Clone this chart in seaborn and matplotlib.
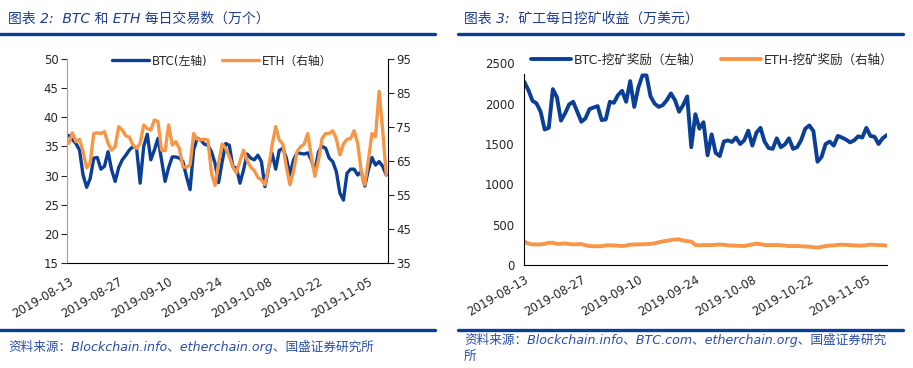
import pandas as pd
import matplotlib
matplotlib.use("Agg")
import matplotlib.pyplot as plt
import matplotlib.dates as mdates
from matplotlib.lines import Line2D
import seaborn as sns

sns.set_style("white")
plt.rcParams['font.family'] = ['DejaVu Sans', 'Noto Sans CJK SC']
plt.rcParams['axes.unicode_minus'] = False

BLUE = "#0b3f96"
ORANGE = "#f79646"
NAVY = "#1f3d8c"

start_date = "2019-08-13"
n_days = 90

# 图表2: 每日交易数 (万个)
btc_tx = [36.9, 36.2, 35.5, 34.4, 30.1, 28.0, 29.5, 33.0, 33.1, 31.1,
          31.6, 34.1, 31.0, 29.0, 31.4, 32.7, 33.5, 34.4, 35.0, 34.7,
          28.7, 35.0, 37.1, 32.7, 34.4, 36.4, 32.7, 29.0, 31.4, 33.2,
          33.2, 33.0, 32.4, 29.8, 27.6, 34.4, 36.4, 36.1, 35.4, 35.2,
          34.1, 32.1, 28.8, 32.4, 35.5, 35.2, 31.5, 31.3, 28.7, 31.0,
          33.7, 33.0, 32.7, 33.5, 32.4, 28.1, 31.3, 33.8, 31.1, 34.3,
          34.7, 33.0, 30.1, 32.7, 33.9, 33.8, 33.7, 33.9, 32.7, 30.7,
          34.1, 35.0, 34.7, 33.0, 32.4, 30.7, 27.0, 25.8, 30.4, 31.1,
          31.1, 30.1, 30.7, 28.2, 31.0, 33.1, 31.8, 32.4, 31.6, 30.1]
eth_tx = [70.2, 73.3, 70.7, 71.4, 67.8, 63.0, 64.5, 73.1, 73.3, 73.1,
          73.6, 70.2, 68.2, 69.2, 75.1, 74.1, 72.4, 72.0, 69.7, 68.7,
          70.2, 75.6, 74.6, 74.1, 77.1, 76.6, 68.2, 68.0, 75.6, 69.7,
          70.7, 68.7, 63.2, 63.2, 63.8, 73.1, 71.4, 71.2, 71.4, 71.2,
          61.4, 57.8, 64.4, 70.0, 68.7, 66.3, 63.2, 61.5, 65.0, 68.2,
          65.2, 63.2, 62.2, 60.2, 59.5, 58.0, 63.0, 69.7, 75.1, 71.2,
          70.0, 63.2, 58.0, 62.0, 67.8, 69.2, 70.0, 73.1, 66.3, 60.5,
          65.2, 71.6, 73.1, 73.1, 73.9, 71.6, 66.8, 70.0, 71.4, 71.6,
          73.9, 70.2, 61.9, 58.0, 65.3, 73.1, 72.1, 85.5, 74.0, 61.0]

# 图表3: 矿工每日挖矿收益 (万美元)
btc_reward = [2270, 2168, 2036, 2003, 1900, 1680, 1700, 2180, 2080, 1790,
              1879, 1990, 2023, 1900, 1776, 1817, 1932, 1953, 1970, 1796,
              1805, 2023, 2011, 2106, 2160, 2023, 2280, 1960, 2200, 2350,
              2350, 2090, 2000, 1960, 1982, 2044, 2127, 2044, 1900, 1982,
              2090, 1460, 1870, 1690, 1770, 1360, 1620, 1390, 1350, 1530,
              1545, 1525, 1580, 1500, 1545, 1665, 1480, 1640, 1700, 1530,
              1450, 1440, 1570, 1460, 1495, 1570, 1440, 1460, 1550, 1690,
              1730, 1660, 1280, 1340, 1500, 1530, 1480, 1600, 1580, 1555,
              1520, 1545, 1595, 1580, 1700, 1600, 1590, 1500, 1570, 1610]
eth_reward = [289, 265, 255, 255, 255, 262, 275, 275, 262, 262,
              268, 260, 255, 258, 260, 245, 235, 233, 231, 233,
              243, 245, 242, 239, 235, 242, 252, 255, 255, 257,
              258, 262, 268, 282, 292, 300, 310, 315, 318, 305,
              295, 289, 250, 243, 247, 247, 247, 250, 255, 250,
              243, 241, 239, 237, 235, 245, 255, 265, 258, 248,
              247, 247, 247, 245, 240, 235, 235, 235, 233, 230,
              227, 220, 215, 225, 235, 240, 243, 250, 252, 250,
              247, 243, 240, 240, 245, 253, 250, 247, 245, 240]

dates = pd.date_range(start_date, periods=n_days)
df2 = pd.DataFrame({"date": dates, "btc": btc_tx, "eth": eth_tx})
df3 = pd.DataFrame({"date": dates, "btc": btc_reward, "eth": eth_reward})

fig = plt.figure(figsize=(9.13, 3.68), dpi=100)

# ---------- left chart ----------
ax1 = fig.add_axes([0.0734, 0.2853, 0.3516, 0.5543])
sns.lineplot(data=df2, x="date", y="btc", ax=ax1, color=BLUE, lw=2.4,
             label="BTC(左轴)", legend=False)
ax2 = ax1.twinx()
sns.lineplot(data=df2, x="date", y="eth", ax=ax2, color=ORANGE, lw=2.4,
             label="ETH（右轴）", legend=False)

ax1.set_ylim(15, 50)
ax1.set_yticks(range(15, 51, 5))
ax2.set_ylim(35, 95)
ax2.set_yticks(range(35, 96, 10))
ax1.set_xlim(dates[0] - pd.Timedelta(hours=12), dates[-1] + pd.Timedelta(hours=12))
ax1.set_xticks(dates[::14])
ax1.xaxis.set_major_formatter(mdates.DateFormatter("%Y-%m-%d"))
ax1.xaxis.set_minor_locator(mdates.DayLocator())
for a in (ax1, ax2):
    a.set_xlabel("")
    a.set_ylabel("")
    a.spines["top"].set_visible(False)
ax1.spines["right"].set_visible(False)
ax2.spines["left"].set_visible(False)
ax1.spines["left"].set_color("#a0a0a0")
ax1.spines["bottom"].set_color("black")
ax2.spines["right"].set_color("black")
ax2.spines["bottom"].set_visible(False)
ax1.tick_params(axis="x", which="both", direction="in", length=3, width=0.8,
                labelsize=8.5, pad=9)
ax1.tick_params(axis="y", direction="out", length=4, width=0.8, labelsize=8.5, pad=2)
ax2.tick_params(axis="y", direction="out", length=4, width=0.8, labelsize=8.5, pad=2)
plt.setp(ax1.get_xticklabels(), rotation=30, ha="right", rotation_mode="anchor")

h1, l1 = ax1.get_legend_handles_labels()
h2, l2 = ax2.get_legend_handles_labels()
fig.legend(h1 + h2, l1 + l2, loc="center", bbox_to_anchor=(0.243, 0.834),
           ncol=2, frameon=False, fontsize=8.5, handlelength=3.2,
           columnspacing=1.2, handletextpad=0.2)

# ---------- right chart ----------
ax3 = fig.add_axes([0.5743, 0.2799, 0.3969, 0.548])
sns.lineplot(data=df3, x="date", y="btc", ax=ax3, color=BLUE, lw=2.8,
             label="BTC-挖矿奖励（左轴）", legend=False)
sns.lineplot(data=df3, x="date", y="eth", ax=ax3, color=ORANGE, lw=2.8,
             label="ETH-挖矿奖励（右轴）", legend=False)
ax3.set_ylim(0, 2500)
ax3.set_yticks(range(0, 2501, 500))
ax3.set_xlim(dates[0], dates[-1])
ax3.set_xticks(dates[::14])
ax3.xaxis.set_major_formatter(mdates.DateFormatter("%Y-%m-%d"))
ax3.set_xticks(dates[::10], minor=True)
ax3.set_xlabel("")
ax3.set_ylabel("")
ax3.spines["top"].set_visible(False)
ax3.spines["right"].set_visible(False)
ax3.spines["left"].set_color("black")
ax3.spines["bottom"].set_color("black")
ax3.spines["left"].set_bounds(0, 2370)
ax3.tick_params(axis="x", which="major", length=0, labelsize=8.5, pad=6)
ax3.tick_params(axis="x", which="minor", direction="out", length=4, width=0.8)
ax3.tick_params(axis="y", direction="out", length=4, width=0.8, labelsize=8.5, pad=3)
ax3.yaxis.get_major_ticks()[-1].tick1line.set_visible(False)
plt.setp(ax3.get_xticklabels(), rotation=30, ha="right", rotation_mode="anchor")

h3, l3 = ax3.get_legend_handles_labels()
fig.legend(h3, l3, loc="center", bbox_to_anchor=(0.78, 0.837), ncol=2,
           frameon=False, fontsize=9, handlelength=3.2, columnspacing=1.5,
           handletextpad=0.2)

# ---------- titles, rules, sources ----------
fig.text(8 / 913, 1 - 19 / 368, "图表 2:  BTC 和 ETH 每日交易数（万个）",
         fontsize=10, color=NAVY, style="italic", va="center")
fig.text(464 / 913, 1 - 19 / 368, "图表 3:  矿工每日挖矿收益（万美元）",
         fontsize=10, color=NAVY, style="italic", va="center")

for x0, x1 in [(0, 435), (458, 903)]:
    for yy in (33.5, 330):
        fig.add_artist(Line2D([x0 / 913, x1 / 913], [1 - yy / 368] * 2,
                              color=BLUE, lw=2.4))

src_color = "#2a4fa8"
fig.text(8 / 913, 1 - 347 / 368,
         "资料来源：Blockchain.info、etherchain.org、国盛证券研究所",
         fontsize=9.1, color=src_color, style="italic", va="center")
fig.text(464 / 913, 1 - 340 / 368,
         "资料来源：Blockchain.info、BTC.com、etherchain.org、国盛证券研究",
         fontsize=9.1, color=src_color, style="italic", va="center")
fig.text(464 / 913, 1 - 356 / 368, "所",
         fontsize=9.1, color=src_color, style="italic", va="center")

fig.savefig("out.png", dpi=100)
